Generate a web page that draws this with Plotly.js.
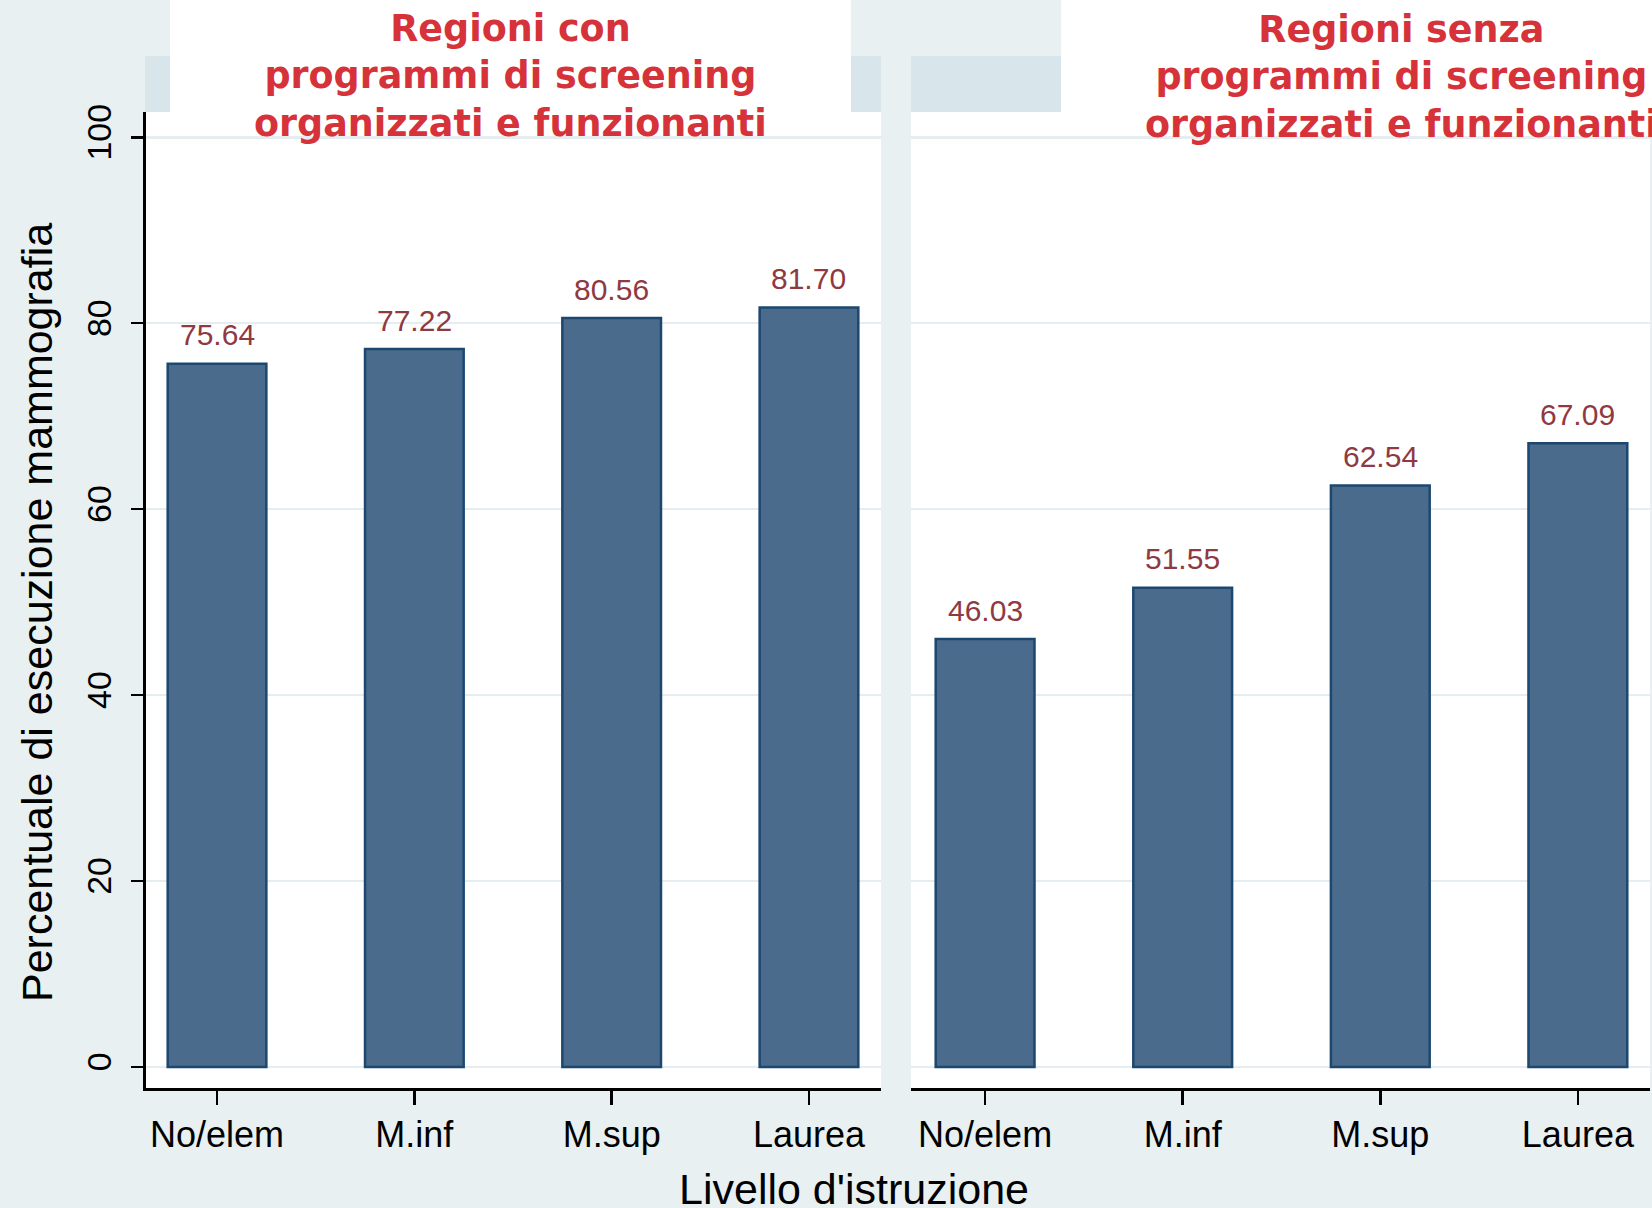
<!DOCTYPE html>
<html>
<head>
<meta charset="utf-8">
<script src="https://cdn.plot.ly/plotly-3.0.1.min.js"></script>
<style>
  html, body { margin: 0; padding: 0; background: #E8F0F2; }
  #chart { width: 1652px; height: 1208px; }
</style>
</head>
<body>
<div id="chart"></div>
<script>
// ---- data ----
const categories = ['No/elem', 'M.inf', 'M.sup', 'Laurea'];
const valuesCon = [75.64, 77.22, 80.56, 81.70];
const valuesSenza = [46.03, 51.55, 62.54, 67.09];
const yTickVals = [0, 20, 40, 60, 80, 100];
const yTickText = ['0', '20', '40', '60', '80', '100'];
const titleCon = 'Regioni con<br>programmi di screening<br>organizzati e funzionanti';
const titleSenza = 'Regioni senza<br>programmi di screening<br>organizzati e funzionanti';
const yTitle = 'Percentuale di esecuzione mammografia';
const xTitle = "Livello d'istruzione";

// ---- geometry helpers (page pixels -> paper) ----
const W = 1652, H = 1208;
const px = v => v / W;
const py = v => 1 - v / H;

const BG = '#E8F0F2';
const STRIP = '#D8E5EB';
const GRID = '#E5EDF0';
const BAR_FILL = '#4A6B8B';
const BAR_LINE = '#1C4870';
const LABEL_RED = '#8F3941';
const TITLE_RED = '#D6323A';
const TICK_FONT = 'Liberation Sans, Arial, sans-serif';

function barTrace(vals, xa, ya) {
  return {
    type: 'bar',
    x: categories,
    y: vals,
    xaxis: xa,
    yaxis: ya,
    width: 0.5,
    marker: { color: BAR_FILL, line: { color: BAR_LINE, width: 2.5 } },
    hoverinfo: 'x+y',
    showlegend: false
  };
}

const traces = [
  barTrace(valuesCon, 'x', 'y'),
  barTrace(valuesSenza, 'x2', 'y2')
];

const yDomain = [py(1088), py(112)];
const yRange = [-2.26, 102.72];

const commonX = {
  type: 'category',
  showline: true,
  linecolor: '#000',
  linewidth: 3,
  ticks: 'outside',
  ticklen: 14,
  tickwidth: 2.5,
  tickcolor: '#000',
  showgrid: false,
  zeroline: false,
  tickfont: { family: TICK_FONT, size: 36, color: '#000' },
  ticklabelstandoff: -1,
  fixedrange: true
};

const annotations = [];
categories.forEach((c, i) => {
  annotations.push({
    x: c, y: valuesCon[i], xref: 'x', yref: 'y',
    text: valuesCon[i].toFixed(2), showarrow: false,
    yanchor: 'middle', yshift: 29,
    font: { family: TICK_FONT, size: 30, color: LABEL_RED }
  });
  annotations.push({
    x: c, y: valuesSenza[i], xref: 'x2', yref: 'y2',
    text: valuesSenza[i].toFixed(2), showarrow: false,
    yanchor: 'middle', yshift: 29,
    font: { family: TICK_FONT, size: 30, color: LABEL_RED }
  });
});

annotations.push({
  xref: 'paper', yref: 'paper', x: px(510.5), y: py(76),
  xanchor: 'center', yanchor: 'middle', showarrow: false,
  text: titleCon, align: 'center',
  font: { family: 'DejaVu Sans, Verdana, sans-serif', size: 36.5, color: TITLE_RED, weight: 'bold' }
});
annotations.push({
  xref: 'paper', yref: 'paper', x: px(1401), y: py(77),
  xanchor: 'center', yanchor: 'middle', showarrow: false,
  text: titleSenza, align: 'center',
  font: { family: 'DejaVu Sans, Verdana, sans-serif', size: 36.5, color: TITLE_RED, weight: 'bold' }
});
annotations.push({
  xref: 'paper', yref: 'paper', x: px(37), y: py(613),
  xanchor: 'center', yanchor: 'middle', showarrow: false,
  textangle: -90, text: yTitle,
  font: { family: TICK_FONT, size: 43, color: '#000' }
});
annotations.push({
  xref: 'paper', yref: 'paper', x: px(854), y: py(1189),
  xanchor: 'center', yanchor: 'middle', showarrow: false,
  text: xTitle,
  font: { family: TICK_FONT, size: 43, color: '#000' }
});

const shapes = [
  { type: 'rect', xref: 'paper', yref: 'paper', layer: 'below',
    x0: px(145), x1: px(881), y0: py(112), y1: py(56),
    fillcolor: STRIP, line: { width: 0 } },
  { type: 'rect', xref: 'paper', yref: 'paper', layer: 'below',
    x0: px(911), x1: px(1652), y0: py(112), y1: py(56),
    fillcolor: STRIP, line: { width: 0 } },
  { type: 'rect', xref: 'paper', yref: 'paper', layer: 'below',
    x0: px(170), x1: px(851), y0: py(112), y1: 1,
    fillcolor: '#FFFFFF', line: { width: 0 } },
  { type: 'rect', xref: 'paper', yref: 'paper', layer: 'below',
    x0: px(1061), x1: 1, y0: py(112), y1: 1,
    fillcolor: '#FFFFFF', line: { width: 0 } }
];

const layout = {
  width: W, height: H,
  margin: { l: 0, r: 0, t: 0, b: 0, pad: 0 },
  paper_bgcolor: BG,
  plot_bgcolor: '#FFFFFF',
  showlegend: false,
  bargap: 0.5,
  xaxis: Object.assign({}, commonX, {
    domain: [px(146), px(881)],
    range: [-0.36, 3.365],
    anchor: 'y'
  }),
  xaxis2: Object.assign({}, commonX, {
    domain: [px(911), px(1650)],
    range: [-0.375, 3.365],
    anchor: 'y2'
  }),
  yaxis: {
    domain: yDomain,
    range: yRange,
    anchor: 'x',
    showline: true,
    linecolor: '#000',
    linewidth: 3,
    ticks: 'outside',
    ticklen: 12,
    tickwidth: 2.5,
    tickcolor: '#000',
    tickvals: yTickVals,
    ticktext: yTickText,
    tickangle: -90,
    tickfont: { family: TICK_FONT, size: 34, color: '#000' },
    ticklabelstandoff: 6,
    showgrid: true,
    gridcolor: GRID,
    gridwidth: 2.5,
    zeroline: false,
    fixedrange: true
  },
  yaxis2: {
    domain: yDomain,
    range: yRange,
    anchor: 'x2',
    showline: false,
    ticks: '',
    tickvals: yTickVals,
    showticklabels: false,
    showgrid: true,
    gridcolor: GRID,
    gridwidth: 2.5,
    zeroline: false,
    fixedrange: true
  },
  annotations: annotations,
  shapes: shapes
};

Plotly.newPlot('chart', traces, layout, { displayModeBar: false, staticPlot: true });
</script>
</body>
</html>
